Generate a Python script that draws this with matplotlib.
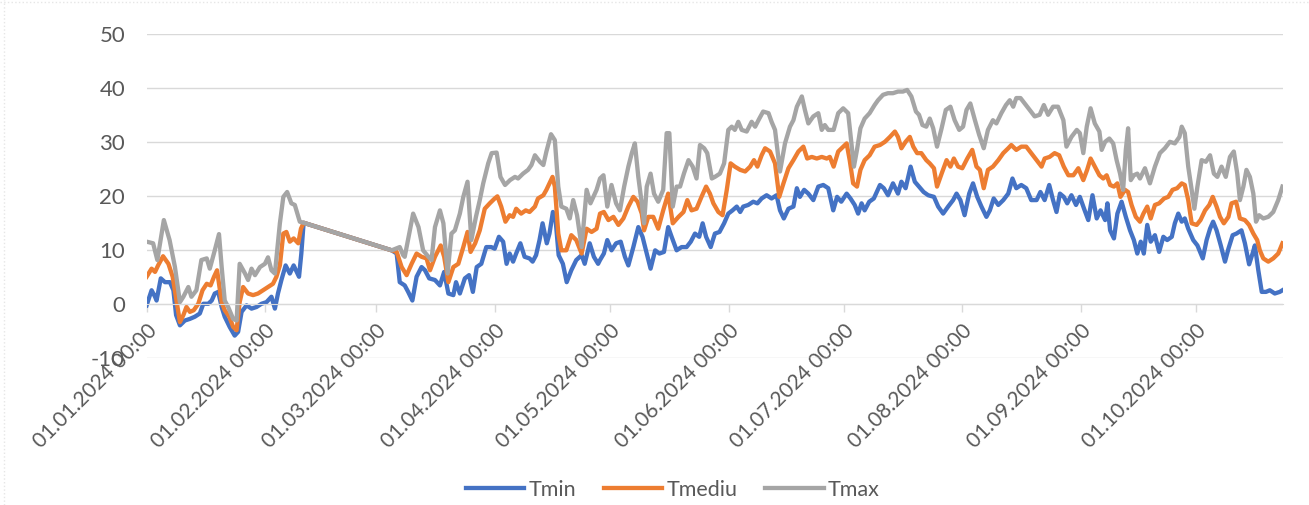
import pandas as pd
import matplotlib
matplotlib.use('Agg')
import matplotlib.pyplot as plt
from matplotlib.lines import Line2D

plt.rcParams['font.family'] = ['Lato', 'DejaVu Sans']
plt.rcParams['axes.unicode_minus'] = False

start = pd.Timestamp('2024-01-01')

# day offsets from 01.01.2024 and values
tmin_day = [0, 1.3, 2.2, 2.6, 3.7, 4.8, 6.1, 7, 7.7, 8.7, 10, 11.3, 12.6, 13.9, 14.8, 16.1, 17, 17.8, 18.7, 19.6,
            20.4, 21.7, 23, 23.9, 24.8, 26.1, 27.4, 28.7, 30, 31.3, 32.6, 33.5, 34.3, 35.2, 36.3, 37.4, 38.4, 39.8,
            40.4, 41, 64,
            65.3, 66.1, 67.4, 68.3, 69.4, 70.5, 71.8, 72.7, 73.8, 75.3, 76.6, 77.7, 78.8, 80.1, 80.8, 81.8, 83.1,
            84.2, 85.2, 86.2, 87.4, 88.7, 90, 90.9, 92, 93.1, 94, 94.8, 95.7, 96.5, 97.6, 98.7, 100, 100.8, 101.7,
            102.6, 103.4, 104.5, 105.2, 106.1, 106.8, 107.6, 108.7, 109.7, 110.9, 112.2, 113.6, 114.4, 115.7,
            116.8, 117.9,
            118.4, 119.4, 120.3, 121.4, 122.6, 123.8, 124.9, 125.8, 127.1, 128.4, 129.5, 130.6, 131.6, 132.8,
            133.9, 135.1, 136.2, 137.1, 138.4, 139.7, 141, 142.1, 143.2, 144.3, 145.2, 146.1, 147.3, 148.4, 149.6,
            150.8, 151.9, 153, 154.1, 155, 155.8, 157.1, 158.4, 159.5, 160.6, 161.9, 163.2, 164.5, 165.4, 166.4,
            167.6, 168.9, 169.8, 170.6, 171.7, 172.8, 174.1, 175.4, 176.7, 178,
            179.3, 180.3, 181.4, 182.8, 183.8, 184.9, 185.8, 186.7, 187.5, 188.7, 189.9, 191.5, 192.5, 193.6,
            194.9, 196.2, 197.1, 198.2, 199.5, 200.6, 201.7, 202.9, 204.1, 205.6, 206.7, 208, 209.3, 210.6, 211.5,
            212.5, 213.6, 214.8, 215.8, 216.9, 218, 219.3, 220.2, 221.2, 222.4, 223.7, 225, 226.1, 227.1, 228.4,
            229.7, 231, 232.4, 233.4, 234.5, 235.7, 236.7, 237.6, 238.5,
            239.5, 240.4, 241.5, 242.7, 243.7, 244.8, 245.9, 247, 248.1, 249.1, 250.3, 250.9, 251.6, 252.6, 253.5,
            254.6, 255.7, 256.8, 257.8, 258.7, 259.6, 260.4, 261.3, 262.2, 263.3, 264.4, 265.5, 266.5, 267.7,
            268.5, 269.4, 270.3, 271.1, 272, 273.3, 274.4, 275.8, 276.8, 277.7, 278.5, 279.4, 280.5, 281.6, 282.5,
            283.6, 284.6, 285.9, 286.8, 287.9, 288.8, 289.4, 290.3, 291.2, 292.3, 293.3, 294.6, 295.9, 296.6]
tmin = [-0.2, 2.6, 1.4, 0.7, 4.8, 4.1, 4.1, 2.6, -2, -3.9, -3, -2.7, -2.3, -1.7, 0.1, 0.1, 0.7, 2, 2.3, -0.5,
        -2.3, -4.2, -5.8, -5.1, -1.4, -0.2, -0.8, -0.5, 0.1, 0.4, 1.4, -0.8, 2, 4.5, 7.2, 5.7, 7.2, 5.1,
        9.4, 15.1, 10.0,
        9.4, 4.1, 3.5, 2.3, 0.7, 5.1, 6.9, 6.3, 4.8, 4.5, 3.5, 6, 2, 1.7, 4.1, 2, 4.8,
        5.4, 2.3, 6.9, 7.5, 10.6, 10.6, 10.3, 12.5, 11.6, 7.5, 9.4, 7.9, 9.4, 11.3, 8.8, 8.5, 7.9, 9.1,
        11.9, 15, 11.3, 13.1, 17.1, 15.6, 9.1, 7.5, 4.1, 6.3, 8.2, 9.1, 7.5, 11.3,
        8.8, 7.5,
        8.2, 9.4, 11.9, 10, 11.3, 11.6, 8.8, 7.2, 10.6, 14.3, 12.5, 9.4, 6.6, 10,
        9.4, 9.7, 14.3, 12.5, 10, 10.6, 10.6, 11.6, 13.1, 12.5, 15, 12.5, 10.6, 13.1, 13.4,
        15, 16.8, 17.4, 18.1, 17.1, 18.1, 18.4, 19, 18.7, 19.6, 20.2, 19.6, 20.2, 17.4, 15.9,
        17.7, 18.1, 21.5, 19.9, 21.2, 20.5, 19.3, 21.8, 22.1, 21.5,
        17.4, 19.9, 19, 20.5, 19.6, 18.4, 16.8, 18.7, 17.4, 19, 19.6, 22.1, 21.5, 20.2,
        22.4, 20.5, 22.7, 21.5, 25.5, 22.7, 21.8, 20.8, 20.2, 19.9, 18.1, 16.8, 18.1, 19.3, 20.5,
        19.3, 16.5, 20.5, 22.4, 19.9, 18.1, 16.2, 17.4, 19.6, 18.4, 19.3, 20.5, 23.3, 21.5, 22.1,
        21.5, 19.3, 19.3, 20.8, 19.3, 22.1, 19.3, 17.1, 20.5,
        19.9, 18.7, 20.2, 18.4, 19.9, 17.7, 15.6, 20.2, 15.9, 17.4, 15.6, 18.7, 13.7, 12.2, 16.8,
        19, 16.2, 13.7, 11.9, 9.4, 11.6, 9.4, 14.7, 11.6, 12.8, 9.7, 12.5, 11.9, 12.5,
        15, 16.8, 15.3, 15.9, 14, 11.9, 10.9, 8.5, 11.9, 14, 15.3, 13.7, 10.9, 7.9, 10.3,
        12.8, 13.1, 13.7, 11.3, 7.4, 9.4, 10.9, 6.3, 2.3, 2.3, 2.6, 2, 2.3, 2.6]

tmed_day = [0, 1.3, 2.2, 3, 4.3, 5.7, 6.8, 7.8, 8.7, 9.6, 10.4, 11.3, 12.3, 13.5, 14.6, 15.7, 16.7, 17.6, 18.4,
            19.6, 20.4, 21.6, 22.6, 23.5, 24.3, 25.2, 26.5, 27.8, 29.1, 30.4, 31.7, 33, 33.9, 34.8, 35.7, 36.5,
            37.4, 38.4, 39.6, 40.3, 41, 64,
            65.3, 66.6, 67.9, 69.2, 70.5, 71.8, 73.1, 74, 75.3, 76.8, 77.7, 78.8, 80.1, 81.4, 82.7, 83.8, 84.6,
            85.8, 87, 88.3, 89.6, 90.9, 91.6, 92.6, 93.7, 94.8, 95.7, 96.5, 97.8, 99, 100, 101.4, 102.2, 103.6,
            104.4, 106, 106.6, 107.5, 108.3, 109.6, 110.9, 112.2, 113.6, 114.9, 116.2, 117.5,
            118.4, 119.4, 120.6, 121.9, 123.2, 124.5, 125.8, 127.1, 128.2, 129.3, 129.9, 131, 132.3, 133.6,
            134.9, 136.2, 137.4, 138.9, 140.2, 141.2, 142.3, 143.6, 144.9, 146.1, 147.1, 148, 149.3, 150.4,
            151.5, 152.5, 153.6, 155, 156.3, 157.6, 158.6, 159.5, 160.6, 161.5, 162.8, 164.1, 165.2, 166.3,
            167.6, 168.9, 170.2, 171.5, 172.5, 173.7, 175, 176.3, 177.6,
            178.4, 179.4, 180.6, 181.9, 182.8, 183.6, 184.5, 185.5, 186.4, 187.5, 188.8, 190.1, 191.5, 192.8,
            194.1, 195.4, 196.2, 197.1, 198.2, 199.3, 200.2, 201.2, 202.3, 203.6, 204.5, 205.6, 206.4, 207.6,
            208.9, 209.9, 210.8, 211.9, 213, 214.3, 215.6, 216.7, 217.6, 218.6, 219.7, 221, 222.4, 223.7, 225,
            225.8, 227.1, 228.4, 229.7, 231, 232.4, 233.7, 234.5, 235.8, 237.1, 238.3,
            239.5, 240.7, 242, 243.3, 244.6, 245.6, 246.5, 247.6, 248.8, 249.8, 250.7, 251.6, 252.6, 253.5,
            254.3, 255.5, 256.3, 257.2, 258.3, 259.4, 260.3, 261.3, 262.2, 263.3, 264.4, 265.7, 266.8, 267.9,
            269.1, 270.3, 271.1, 272, 272.9, 274.2, 275.2, 276.4, 277.5, 278.4, 279.4, 280.3, 281.3, 282.5,
            283.3, 284.5, 285.5, 286.8, 287.9, 289, 290, 290.7, 291.6, 292.9, 294.2, 295.5, 296.6]
tmediu = [5.1, 6.6, 6, 7.2, 8.9, 7.5, 5.1, 0.7, -3.3, -2, -0.5, -1.4, -1.1, 0.1, 2.6, 3.8, 3.5, 5.1, 6.3,
          0.4, -1.1, -2.3, -4.2, -4.8, 0.4, 3.2, 2, 1.7, 2, 2.6, 3.2, 3.8, 5.1, 7.2, 13.1, 13.4,
          11.6, 12.2, 11.3, 14, 15.1, 10.0,
          9.7, 6.9, 5.4, 7.5, 9.4, 8.8, 8.5, 6.3, 8.8, 10.9, 8.8, 4.1, 6.9, 7.5, 10.6, 13.4, 9.7,
          11.3, 13.7, 17.7, 18.7, 19.6, 20, 18.1, 15.3, 16.5, 16.2, 17.7, 16.8, 17.4, 17.1, 18.1, 19.6, 20.2,
          21.2, 23.6, 21.8, 13.1, 10, 10, 12.8, 11.9, 9.4, 14, 13.4, 14,
          16.8, 17.1, 15.6, 16.2, 14.7, 15.9, 18.1, 19.9, 19, 16.8, 13.7, 16.2, 16.2, 14,
          17.4, 20.5, 15, 16.2, 17.1, 19.3, 17.4, 17.7, 19.9, 21.8, 20.5, 18.7, 17.1, 16.5,
          21.2, 26.1, 25.5, 24.9, 24.6, 25.5, 26.7, 25.5, 27.6, 28.9, 28.3, 26.1, 19.9, 22.4,
          25.2, 26.7, 28.3, 29.2, 27, 27.3, 27, 27.3, 27,
          27.3, 25.5, 28.3, 29.2, 29.8, 26.7, 22.4, 21.8, 24.9, 26.7, 27.6, 29.2, 29.5, 30.1,
          31, 32, 31, 28.9, 30.1, 31, 29.2, 28, 28, 26.7, 26.1, 25.2, 21.8, 24.2,
          26.7, 25.5, 27, 25.5, 25.2, 27, 28.6, 25.5, 24.9, 21.5, 24.9, 25.5, 26.7, 28, 28.9,
          29.5, 28.6, 29.2, 29.2, 28, 26.7, 25.5, 27, 27.3, 28, 27.6,
          25.5, 23.9, 23.9, 25.2, 23, 24.9, 27, 25.5, 23.9, 23.3, 23.9, 22.1, 21.8, 22.4,
          19.9, 21.2, 20.8, 18.4, 16.2, 15.3, 16.8, 18.1, 15.9, 18.4, 18.7, 19.6, 19.9, 21.2,
          21.5, 22.4, 22.1, 19.3, 15, 14.7, 15.6, 17.4, 18.4, 19.9, 18.1, 16.2, 15, 16.2,
          18.7, 19, 15.9, 15.6, 14.7, 13.1, 11.9, 10, 8.5, 7.9, 8.5, 9.4, 11.3]

tmax_day = [0, 1.7, 2.8, 4.5, 6, 7.4, 8.7, 9.6, 10.9, 11.7, 13, 14.3, 15.7, 16.5, 17.8, 18.9, 19.6, 20.4, 21.3,
            22.6, 23.5, 24.3, 25.7, 26.5, 27.4, 28.3, 29.6, 30.9, 31.7, 32.6, 33.5, 34.8, 35.7, 36.7, 37.8, 38.7,
            40, 41, 64,
            66.1, 67, 67.4, 69.6, 71, 72.2, 73.6, 74.4, 75.3, 76.6, 77.5, 78.6, 79.6, 80.5, 81.8, 82.7, 83.8,
            84.8, 86, 87, 87.9, 89.2, 90.1, 91.4, 92.4, 93.6, 94.9, 96.2, 97, 98.3, 99.6, 100.5, 101.4, 102.7,
            103.6, 104.4, 105.6, 106.6, 107.5, 108.3, 109.6, 110.5, 111.4, 112.4, 113.6, 114.9, 115.9, 117.5,
            118.4, 119.3, 120.3, 121.4, 122.6, 123.6, 124.7, 125.8, 126.7, 127.5, 128.4, 129.3, 129.9, 130.6,
            131.6, 132.5, 133.6, 134.9, 135.8, 136.5, 137.4, 138.4, 139.3, 140.3, 141.5, 142.6, 143.6, 144.5,
            145.6, 146.4, 147.6, 148.4, 149.7, 150.8, 151.9, 152.8, 153.6, 154.5, 155.4, 156.7, 158, 158.9,
            160, 161, 162.4, 163.2, 164.1, 165.4, 166.7, 168, 168.9, 169.8, 171.1, 171.9, 172.8, 174.1, 175.4,
            176.3, 177.1, 178,
            179.4, 180.6, 181.9, 183.2, 184, 184.7, 185.5, 186.4, 187.5, 188.8, 190.1, 191, 192.3, 193.6, 194.9,
            196.2, 197.5, 198.6, 199.7, 200.9, 201.7, 202.6, 203.6, 204.5, 205.4, 206.4, 207.6, 208.7, 209.9,
            211, 212.2, 213.2, 214.1, 215.1, 216.3, 217.4, 218.6, 219.7, 221, 221.9, 223.2, 224.4, 225.4, 226.3,
            227.1, 228.2, 229.3, 230.6, 231.9, 233.2, 234.3, 235.4, 236.7, 238,
            239.4, 240.2, 241.5, 242.9, 243.7, 244.6, 245.5, 246.5, 247.6, 248.8, 249.4, 250.3, 251.4, 252.4,
            253.3, 254.2, 255, 255.7, 256.3, 257, 257.8, 258.7, 259.4, 260.7, 262, 263.3, 264.6, 265.9, 267.2,
            268.5, 269.7, 270.3, 271.1, 272, 272.9, 273.6, 274.4, 275.5, 276.6, 277.7, 278.7, 279.6, 280.7,
            281.8, 282.9, 283.9, 284.8, 285.5, 286.4, 287.2, 288.1, 289, 289.7, 290.5, 291.6, 292.9, 294.2,
            295.5, 296.6]
tmax = [11.6, 11.3, 8.2, 15.6, 11.9, 6.9, 0.4, 1.4, 3.2, 1.4, 2.6, 8.2, 8.5, 6.6, 10, 13, 6.9, 0.7, -0.5,
        -2.7, -3, 7.5, 5.7, 4.5, 6.6, 5.4, 6.9, 7.5, 8.7, 6.3, 5.7, 15, 19.9, 20.8, 18.7, 18.4,
        15.3, 15.1, 10.0,
        10.6, 9.1, 8.8, 16.8, 14.3, 10, 8.8, 8.2, 14.3, 17.4, 15, 5.7, 13.1, 13.7, 16.8, 19.9, 22.7,
        11.9, 16.2, 19.3, 22.4, 26.1, 28, 28.1, 23.6, 22.1, 23, 23.6, 23.3, 24.2, 24.9, 25.8, 27.6, 26.4,
        25.8, 28.3, 31.5, 30.4, 21.8, 18.1, 17.7, 15.9, 19.3, 16.5, 10.6, 21.2, 18.7, 21.2,
        23.3, 23.9, 18.1, 22.1, 18.7, 17.4, 21.8, 25.5, 28, 29.8, 23.6, 18.7, 15, 21.8,
        24.2, 20.5, 19, 21.2, 31.7, 31.7, 18.1, 21.8, 21.8, 24.2, 26.7, 25.5, 23.3, 29.5,
        28.9, 28, 23.3, 23.6, 24.2, 26.1, 32.3, 32.9, 32.3, 33.8, 32.3, 32, 33.8, 32.9,
        34.4, 35.7, 35.4, 33.8, 32.3, 24.6, 29.8, 32.9, 34.1, 36.6, 38.5, 36, 33.5, 34.8, 35.4,
        32.3, 33.2, 32.3,
        32.3, 35.4, 36.3, 35.4, 30.1, 25.5, 28.6, 32.6, 34.4, 35.4, 36.9, 37.8, 38.8, 39.1, 39.1,
        39.4, 39.4, 39.7, 38.5, 35.7, 35.1, 33.2, 32.9, 34.4, 32.6, 29.2, 32.6, 36, 36.6,
        34.1, 32.3, 32.9, 36, 37.2, 34.1, 31.4, 28.9, 32.3, 34.1, 33.5, 35.4, 36.9, 37.8, 36.6,
        38.2, 38.2, 37.2, 36, 34.8, 35.1, 36.9, 35.1, 36.6, 36.6,
        34.1, 29.2, 31, 32.3, 31.7, 28, 32.9, 36.3, 33.5, 32, 28.6, 30.1, 30.7, 29.8,
        26.7, 24.2, 21.2, 28.6, 32.6, 23, 23.9, 24.2, 23.3, 25.2, 22.4, 25.5, 28, 28.9, 30.1,
        29.8, 31, 32.9, 31.7, 25.5, 21.2, 17.7, 21.8, 26.7, 26.4, 27.6, 24.2, 23.6, 25.5,
        23.6, 27.3, 28.3, 24.2, 19.3, 21.8, 24.9, 23.6, 20.5, 15.3, 16.5, 15.9, 16.2, 17.1,
        19.3, 21.8]

month_ticks = pd.date_range('2024-01-01', '2024-10-01', freq='MS')


def to_dates(days):
    return start + pd.to_timedelta(days, unit='D')


fig = plt.figure(figsize=(13.09, 5.05), dpi=100)
ax = fig.add_axes([0.112, 0.2905, 0.868, 0.6415])

# spine position first: moving it resets the ticks
for s in ['top', 'right', 'left']:
    ax.spines[s].set_visible(False)
ax.spines['bottom'].set_position(('data', 0))
ax.spines['bottom'].set_color('#D9D9D9')

ax.plot(to_dates(tmin_day), tmin, color='#4472C4', lw=3.1, label='Tmin', solid_joinstyle='round')
ax.plot(to_dates(tmed_day), tmediu, color='#ED7D31', lw=3.1, label='Tmediu', solid_joinstyle='round')
ax.plot(to_dates(tmax_day), tmax, color='#A5A5A5', lw=3.1, label='Tmax', solid_joinstyle='round')

ax.set_ylim(-10, 50)
ax.set_yticks(range(-10, 51, 10))
ax.set_xlim(start, to_dates(296.7))
ax.set_xticks(month_ticks)
ax.set_xticklabels([d.strftime('%d.%m.%Y %H:%M') for d in month_ticks])

ax.grid(axis='y', color='#D9D9D9', lw=1)
ax.set_axisbelow(True)
ax.tick_params(axis='y', length=0, pad=15.5, labelsize=16, labelcolor='#595959')
ax.tick_params(axis='x', length=5.5, width=1, color='#D9D9D9', pad=6, labelsize=15,
               labelcolor='#595959', labelrotation=45)
for lab in ax.get_xticklabels():
    lab.set_ha('right')
    lab.set_va('top')
    lab.set_rotation_mode('anchor')

fig.legend(loc='center', bbox_to_anchor=(0.514, 0.03), ncol=3, frameon=False, fontsize=15.5,
           handlelength=2.7, handletextpad=0.2, columnspacing=1.3, labelcolor='#595959')

# faint dotted chart-area border at top and left
fig.add_artist(Line2D([0.003, 0.003], [0, 1], transform=fig.transFigure, color='#E6E6E6', lw=1, ls=':'))
fig.add_artist(Line2D([0, 1], [0.996, 0.996], transform=fig.transFigure, color='#E6E6E6', lw=1, ls=':'))

fig.savefig('out.png', dpi=100)
